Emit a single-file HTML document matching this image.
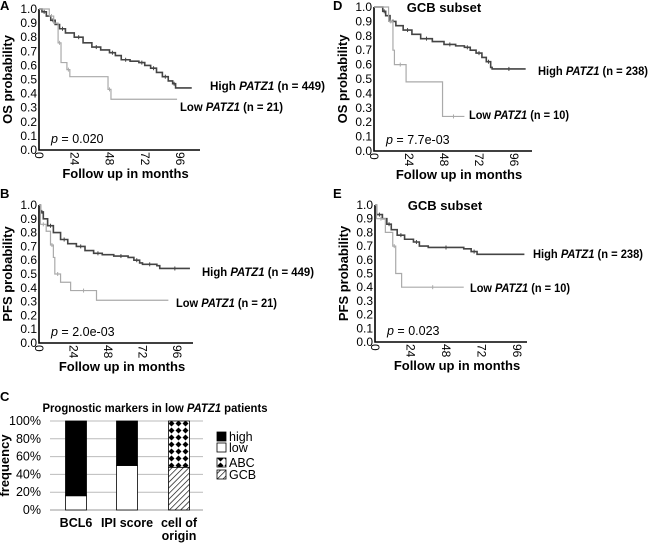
<!DOCTYPE html>
<html><head><meta charset="utf-8"><style>
body{margin:0;background:#fff;}
svg{display:block;font-family:"Liberation Sans",Arial,sans-serif;}
.b{font-weight:bold}
</style></head><body>
<svg id="fig" width="650" height="544" viewBox="0 0 650 544">
<defs>
<pattern id="hatch" width="4" height="4" patternUnits="userSpaceOnUse" patternTransform="rotate(45)"><rect width="4" height="4" fill="#fff"/><line x1="0" y1="0" x2="0" y2="4" stroke="#000" stroke-width="1.3"/></pattern>
<pattern id="diam" width="7" height="7" patternUnits="userSpaceOnUse"><rect width="7" height="7" fill="#fff"/><path d="M3.5 0.5 L6.5 3.5 L3.5 6.5 L0.5 3.5Z" fill="#000"/></pattern>
</defs>
</svg>
<script>
// ---- KM data: [month, survival] step points ----
const aHigh=[[0,1],[2,0.98],[5,0.95],[8,0.92],[11,0.89],[14,0.86],[18,0.83],[24,0.8],[30,0.76],[36,0.73],[42,0.71],[48,0.69],[52,0.67],[56,0.64],[62,0.63],[68,0.62],[72,0.6],[76,0.58],[80,0.55],[84,0.52],[88,0.49],[91,0.47],[93,0.44],[104,0.44]];
const aLow=[[0,1],[7,0.95],[10,0.9],[13,0.76],[15,0.62],[19,0.57],[21,0.52],[47,0.43],[49,0.36],[94,0.36]];
const bHigh=[[0,1],[1,0.95],[3,0.9],[6,0.85],[10,0.8],[15,0.75],[20,0.72],[26,0.7],[32,0.67],[38,0.65],[44,0.64],[52,0.63],[62,0.62],[66,0.6],[70,0.58],[72,0.57],[82,0.56],[84,0.54],[105,0.54]];
const bLow=[[0,1],[1,0.86],[5,0.81],[8,0.71],[10,0.62],[11,0.5],[15,0.44],[22,0.38],[40,0.31],[90,0.31]];
const dHigh=[[0,1],[6,0.97],[8,0.94],[11,0.9],[15,0.87],[20,0.84],[26,0.81],[32,0.78],[40,0.76],[48,0.74],[56,0.73],[62,0.72],[66,0.7],[70,0.68],[74,0.65],[77,0.62],[80,0.58],[81,0.57],[104,0.57]];
const dLow=[[0,1],[10,0.9],[13,0.7],[14,0.6],[22,0.48],[47,0.24],[62,0.24]];
const eHigh=[[0,1],[1,0.93],[5,0.9],[8,0.86],[11,0.82],[15,0.78],[20,0.75],[26,0.73],[30,0.7],[36,0.69],[60,0.68],[65,0.66],[69,0.64],[101,0.64]];
const eLow=[[0,1],[1,0.9],[7,0.8],[12,0.7],[14,0.5],[18,0.4],[60,0.4]];
const yTicks=["0.0","0.1","0.2","0.3","0.4","0.5","0.6","0.7","0.8","0.9","1.0"];
const xTicks=[0,24,48,72,96];
// ---- bar chart data ----
const barCats=["BCL6","IPI score","cell of"];
const lowPct=[16,50];
const highPct=[84,50];
const gcbPct=[48];
const abcPct=[52];
const pctTicks=["0%","20%","40%","60%","80%","100%"];

const svg=document.getElementById('fig');
const NS="http://www.w3.org/2000/svg";
function el(tag,attrs,parent){const e=document.createElementNS(NS,tag);for(const k in attrs)e.setAttribute(k,attrs[k]);(parent||svg).appendChild(e);return e;}
function txt(x,y,s,attrs,parent){const t=el('text',Object.assign({x:x,y:y,'font-size':11},attrs||{}),parent);t.innerHTML=s;return t;}

function km(c){
  const g=el('g',{});
  
  
  const X=m=>c.x0+(c.x96-c.x0)*m/96, Y=v=>c.y0-(c.y0-c.y1)*v;
  const ax=el('path',{d:`M${c.x0} ${c.y1} V${c.y0} H${c.xe}`,stroke:'#000','stroke-width':1.6,fill:'none'},g);
  
  
  yTicks.forEach((t,i)=>{const l=txt(c.x0-2,Y(i/10)+4,t,{'text-anchor':'end','font-size':12},g);
    
    });
  xTicks.forEach(m=>{const l=txt(0,0,String(m),{'font-size':12,transform:`translate(${X(m)-4},${c.y0+2}) rotate(90)`},g);
    
    });
  [[c.hi,'#444',1.6],[c.lo,'#aaa',1.2]].forEach(([d,col,w],k)=>{
    let p=`M${X(d[0][0])} ${Y(d[0][1])}`;
    for(let i=1;i<d.length;i++){p+=` H${X(d[i][0])} V${Y(d[i][1])}`;}
    const path=el('path',{d:p,stroke:col,'stroke-width':w,fill:'none'},g);
    
    
    for(let i=2;i<d.length;i+=2){const cx=X((d[i-1][0]+d[i][0])/2),cy=Y(d[i-1][1]);
      const cen=el('line',{x1:cx,x2:cx,y1:cy-2,y2:cy+2,stroke:col,'stroke-width':1},g);
      
      }
  });
  const yt=txt(0,0,c.ytitle,{class:'b','font-size':13,'text-anchor':'middle',transform:`translate(${c.x0-27},${(c.y0+c.y1)/2}) rotate(-90)`},g);
  
  
  const xt=txt((c.x0+c.xe)/2+6,c.y0+28,'Follow up in months',{class:'b','font-size':13,'text-anchor':'middle'},g);
  
  
  const hl=txt(c.hl[0],c.hl[1],`High <tspan font-style="italic">PATZ1</tspan> (n = ${c.nh})`,{class:'b','font-size':12,textLength:c.hw,lengthAdjust:'spacingAndGlyphs'},g);
  
  
  const ll=txt(c.ll[0],c.ll[1],`Low <tspan font-style="italic">PATZ1</tspan> (n = ${c.nl})`,{class:'b','font-size':12,textLength:c.lw,lengthAdjust:'spacingAndGlyphs'},g);
  
  
  const pv=txt(c.x0+12,c.y0-7,`<tspan font-style="italic">p</tspan> = ${c.p}`,{'font-size':12.5},g);
  
  
  const lt=txt(c.lx,c.ly,c.letter,{class:'b','font-size':13},g);
  
  
  if(c.title){const tt=txt(c.x0+70,c.y1+5,c.title,{class:'b','font-size':13,'text-anchor':'middle'},g);
    
    }
}
km({name:'panel-a',x0:39,x96:180,xe:200,y0:150,y1:9,hi:aHigh,lo:aLow,ytitle:'OS probability',hl:[210,90],ll:[180,111],hw:115,lw:103,nh:449,nl:21,p:'0.020',letter:'A',lx:0,ly:10});
km({name:'panel-b',x0:39,x96:177,xe:193,y0:343,y1:205,hi:bHigh,lo:bLow,ytitle:'PFS probability',hl:[202,276],ll:[176,307],hw:112,lw:101,nh:449,nl:21,p:'2.0e-03',letter:'B',lx:0,ly:198});
km({name:'panel-d',x0:374,x96:514,xe:532,y0:151,y1:7,hi:dHigh,lo:dLow,ytitle:'OS probability',hl:[538,75],ll:[469,119],hw:110,lw:100,nh:238,nl:10,p:'7.7e-03',letter:'D',lx:333,ly:10,title:'GCB subset'});
km({name:'panel-e',x0:375,x96:517,xe:527,y0:342,y1:205,hi:eHigh,lo:eLow,ytitle:'PFS probability',hl:[533,258],ll:[470,292],hw:110,lw:100,nh:238,nl:10,p:'0.023',letter:'E',lx:333,ly:198,title:'GCB subset'});

// ---- panel C ----
(function(){
  const g=el('g',{});
  
  
  const y0=510,y1=421,xl=50,xr=203;
  const Y=p=>y0-(y0-y1)*p/100;
  pctTicks.forEach((t,i)=>{const v=i*20;
    if(i>0){const gl=el('line',{x1:xl,x2:xr,y1:Y(v),y2:Y(v),stroke:'#bbb','stroke-width':1},g);
      
      }
    const l=txt(xl-9,Y(v)+4,t,{'text-anchor':'end','font-size':12.5},g);
    
    });
  const ax=el('path',{d:`M${xl} ${y0} H${xr}`,stroke:'#999','stroke-width':1},g);
  
  
  const bw=21,centers=[76,127,179];
  for(let i=0;i<2;i++){
    const lo=el('rect',{x:centers[i]-bw/2,y:Y(lowPct[i]),width:bw,height:y0-Y(lowPct[i]),fill:'#fff',stroke:'#000','stroke-width':0.8},g);
    
    
    const hi=el('rect',{x:centers[i]-bw/2,y:Y(lowPct[i]+highPct[i]),width:bw,height:Y(lowPct[i])-Y(lowPct[i]+highPct[i]),fill:'#000',stroke:'#000','stroke-width':0.8},g);
    
    
  }
  const gc=el('rect',{x:centers[2]-bw/2,y:Y(gcbPct[0]),width:bw,height:y0-Y(gcbPct[0]),fill:'url(#hatch)',stroke:'#000','stroke-width':0.8},g);
  
  
  const ab=el('rect',{x:centers[2]-bw/2,y:Y(gcbPct[0]+abcPct[0]),width:bw,height:Y(gcbPct[0])-Y(gcbPct[0]+abcPct[0]),fill:'url(#diam)',stroke:'#000','stroke-width':0.8},g);
  
  
  barCats.forEach((c,i)=>{const l=txt(centers[i],y0+17,c,{class:'b','font-size':12.5,'text-anchor':'middle'},g);
    
    });
  const l2=txt(centers[2],y0+30,'origin',{class:'b','font-size':12.5,'text-anchor':'middle'},g);
  
  
  const yt=txt(0,0,'frequency',{class:'b','font-size':13,'text-anchor':'middle',transform:`translate(9,${(y0+y1)/2}) rotate(-90)`},g);
  
  
  const tt=txt(155,412,'Prognostic markers in low <tspan font-style="italic">PATZ1</tspan> patients',{class:'b','font-size':12,'text-anchor':'middle',textLength:225,lengthAdjust:'spacingAndGlyphs'},g);
  
  
  const lt=txt(0,401,'C',{class:'b','font-size':13},g);
  
  
  const leg=[['high','#000'],['low','#fff'],['ABC','url(#diam)'],['GCB','url(#hatch)']];
  const ly=[437,448,463,475];
  leg.forEach((e,i)=>{
    const r=el('rect',{x:217,y:ly[i]-5,width:9,height:9,fill:e[1],stroke:'#000','stroke-width':0.8},g);
    
    
    const t=txt(229,ly[i]+4,e[0],{'font-size':12.5},g);
    
    
  });
})();
</script>
</body></html>
